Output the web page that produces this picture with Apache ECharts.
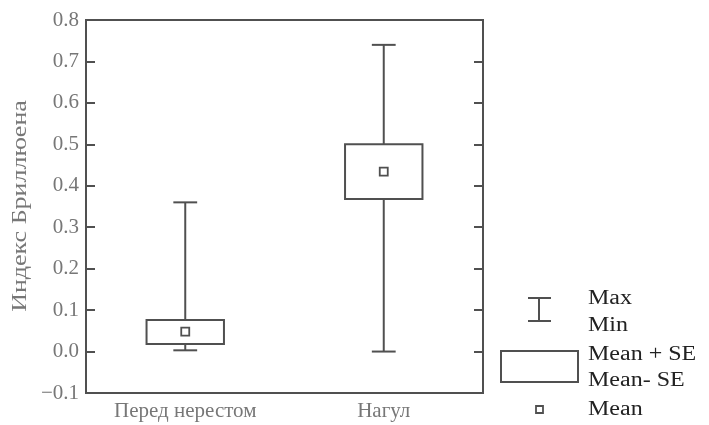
<!DOCTYPE html>
<html><head><meta charset="utf-8">
<script src="https://cdn.jsdelivr.net/npm/echarts@6/dist/echarts.min.js"></script>
<style>html,body{margin:0;padding:0;background:#fff}#c{width:709px;height:425px}</style>
</head><body><div id="c"></div>
<script>
var categories = ['Перед нерестом', 'Нагул'];
var maxVals = [0.36, 0.74];
var minVals = [0.003, 0.0];
var upperSE = [0.076, 0.50];
var lowerSE = [0.018, 0.368];
var means = [0.048, 0.434];
var yTicks = { min: -0.1, max: 0.8, interval: 0.1 };
var yName = 'Индекс Бриллюена';
var legendLabels = ['Max', 'Min', 'Mean + SE', 'Mean- SE', 'Mean'];

var LINE = '#505050';
var FONT = 'Liberation Serif';

var data = categories.map(function (c, i) {
  return [i, minVals[i], lowerSE[i], means[i], upperSE[i], maxVals[i]];
});

function renderItem(params, api) {
  var i = api.value(0);
  var band = api.size([1, 0])[0];
  var pMin = api.coord([i, api.value(1)]);
  var pLo = api.coord([i, api.value(2)]);
  var pMean = api.coord([i, api.value(3)]);
  var pHi = api.coord([i, api.value(4)]);
  var pMax = api.coord([i, api.value(5)]);
  var x = pMin[0];
  var bw = band * 0.39;
  var cw = band * 0.12;
  var sq = 8;
  return {
    type: 'group',
    children: [
      { type: 'line', shape: { x1: x, y1: pMin[1], x2: x, y2: pMax[1] }, style: { stroke: LINE, lineWidth: 2 } },
      { type: 'line', shape: { x1: x - cw / 2, y1: pMax[1], x2: x + cw / 2, y2: pMax[1] }, style: { stroke: LINE, lineWidth: 2 } },
      { type: 'line', shape: { x1: x - cw / 2, y1: pMin[1], x2: x + cw / 2, y2: pMin[1] }, style: { stroke: LINE, lineWidth: 2 } },
      { type: 'rect', shape: { x: x - bw / 2, y: pHi[1], width: bw, height: pLo[1] - pHi[1] }, style: { fill: '#fff', stroke: LINE, lineWidth: 2 } },
      { type: 'rect', shape: { x: x - sq / 2, y: pMean[1] - sq / 2, width: sq, height: sq }, style: { fill: '#fff', stroke: LINE, lineWidth: 1.8 } }
    ]
  };
}

function lt(t, y) {
  return { type: 'text', x: 588, y: y, scaleX: 1.2,
    style: { text: t, fontFamily: FONT, fontSize: 20, fill: '#222', verticalAlign: 'middle', align: 'left' } };
}

var chart = echarts.init(document.getElementById('c'), null, { renderer: 'canvas' });
chart.setOption({
  animation: false,
  backgroundColor: '#fff',
  grid: { left: 86, right: 226, top: 20, bottom: 32, show: true, borderColor: LINE, borderWidth: 2, backgroundColor: 'transparent' },
  xAxis: {
    type: 'category', data: categories, boundaryGap: true,
    axisLine: { show: false }, axisTick: { show: false },
    axisLabel: { fontFamily: FONT, fontSize: 21, color: '#777', margin: 8 },
    splitLine: { show: false }
  },
  yAxis: [{
    type: 'value', min: yTicks.min, max: yTicks.max, interval: yTicks.interval, position: 'left',
    axisLine: { show: false },
    axisTick: { show: true, inside: true, length: 9, lineStyle: { color: LINE, width: 2 } },
    axisLabel: { fontFamily: FONT, fontSize: 21, color: '#777', margin: 7,
      formatter: function (v) { v = Math.round(v * 10) / 10; return (v < 0 ? '\u2212' + Math.abs(v).toFixed(1) : v.toFixed(1)); } },
    splitLine: { show: false }
  }, {
    type: 'value', min: yTicks.min, max: yTicks.max, interval: yTicks.interval, position: 'right',
    axisLine: { show: false },
    axisTick: { show: true, inside: true, length: 9, lineStyle: { color: LINE, width: 2 } },
    axisLabel: { show: false }, splitLine: { show: false }
  }],
  series: [{
    type: 'custom', renderItem: renderItem, data: data,
    encode: { x: 0, y: [1, 2, 3, 4, 5] }, clip: false
  }],
  graphic: [
    { type: 'text', x: 21, y: 206, rotation: Math.PI / 2, scaleX: 1.3,
      style: { text: yName, fontFamily: FONT, fontSize: 20, fill: '#777', align: 'center', verticalAlign: 'middle' } },
    { type: 'line', shape: { x1: 539, y1: 298, x2: 539, y2: 321 }, style: { stroke: LINE, lineWidth: 2 } },
    { type: 'line', shape: { x1: 528, y1: 298, x2: 551, y2: 298 }, style: { stroke: LINE, lineWidth: 2 } },
    { type: 'line', shape: { x1: 528, y1: 321, x2: 551, y2: 321 }, style: { stroke: LINE, lineWidth: 2 } },
    { type: 'rect', shape: { x: 501, y: 351, width: 77, height: 31 }, style: { fill: '#fff', stroke: LINE, lineWidth: 2 } },
    { type: 'rect', shape: { x: 536, y: 406, width: 7, height: 7 }, style: { fill: '#fff', stroke: LINE, lineWidth: 1.8 } },
    lt(legendLabels[0], 299), lt(legendLabels[1], 326), lt(legendLabels[2], 355), lt(legendLabels[3], 381), lt(legendLabels[4], 410)
  ]
});
</script></body></html>
